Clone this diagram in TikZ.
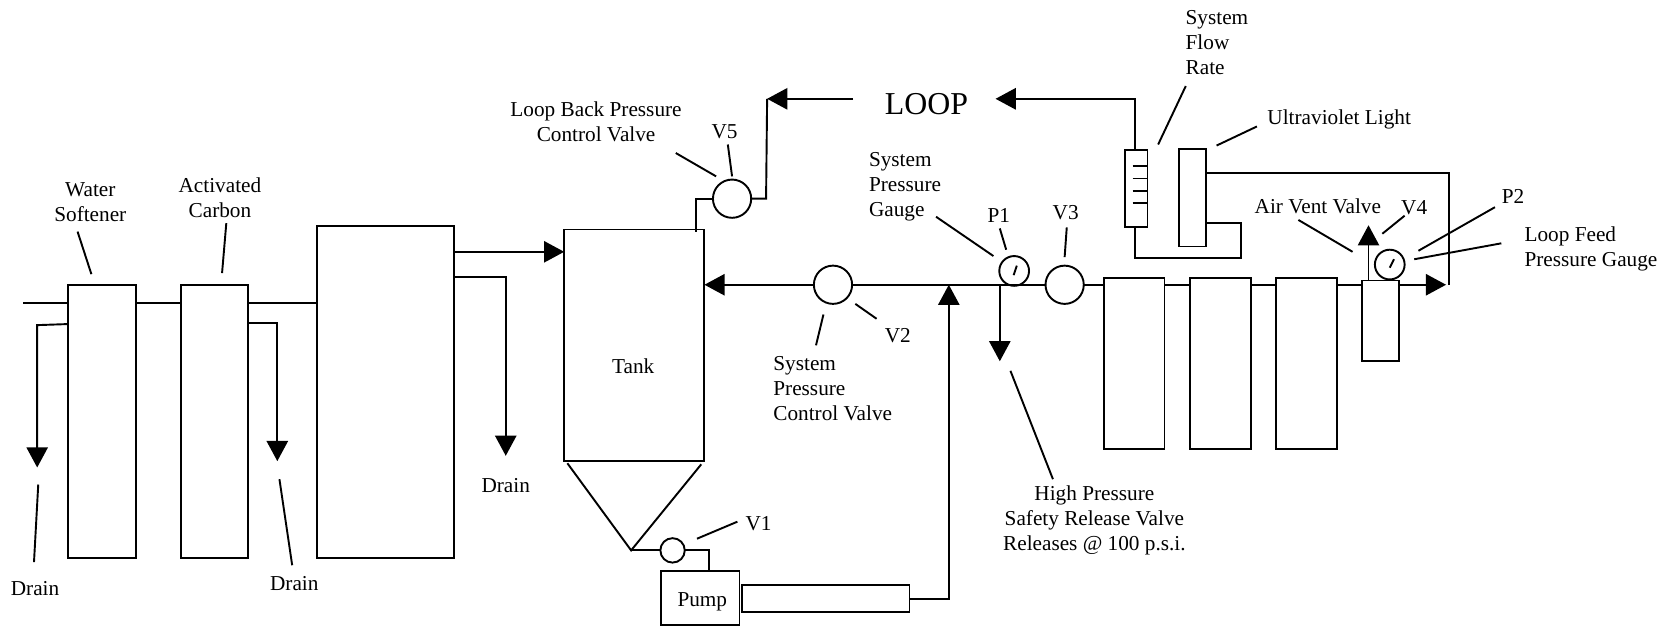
\documentclass[tikz,border=0pt]{standalone}
\usepackage{fontspec}
\setmainfont{Liberation Serif}
\usetikzlibrary{arrows.meta}
\tikzset{
    box/.style={draw, inner sep=0pt, outer sep=0pt},
    valve/.style={draw, circle, inner sep=0pt, outer sep=0pt, minimum size=36pt},
    gauge/.style={draw, circle, inner sep=0pt, outer sep=0pt, minimum size=28pt},
    flow/.style={-{Triangle[length=19pt,width=20pt]}},
    lbl/.style={inner sep=0pt, align=center},
    lblleft/.style={inner sep=0pt, anchor=west, align=left}
}
\begin{document}
\begin{tikzpicture} [x=1pt, y=-1pt, line width=1.8pt, every node/.append style={font=\fontsize{20}{23.5}\selectfont}]
        \useasboundingbox (0,0) rectangle (1568,589);
        % vessels
        \node[box, minimum width=64pt, minimum height=257pt] (softener) at (96,396.5) {};
        \node[box, minimum width=63pt, minimum height=257pt] (carbon) at (201.5,396.5) {};
        \node[box, minimum width=129pt, minimum height=312pt] (media) at (362.5,369) {};
        \node[box, minimum width=132pt, minimum height=218pt] (tank) at (597,325) {};
        \node[box, minimum width=74pt, minimum height=51pt] (pump) at (659,562.5) {};
        \node[box, minimum width=158pt, minimum height=25pt] (motor) at (777,563.5) {};
        \node[box, minimum width=57pt, minimum height=161pt] (filterA) at (1067.5,342.5) {};
        \node[box, minimum width=57pt, minimum height=161pt] (filterB) at (1148.5,342.5) {};
        \node[box, minimum width=57pt, minimum height=161pt] (filterC) at (1229.5,342.5) {};
        \node[box, minimum width=35pt, minimum height=76pt] (vent) at (1299.5,302) {};
        \node[box, minimum width=21pt, minimum height=73pt] (meter) at (1069.5,177.5) {};
        \node[box, minimum width=25pt, minimum height=92pt] (uv) at (1122.5,186) {};
        % valves and gauges
        \node[valve, minimum size=23pt] (v1) at (633,518) {};
        \node[valve] (v2) at (784,268) {};
        \node[valve] (v3) at (1002,268) {};
        \node[valve] (v5) at (689,187) {};
        \node[gauge] (p1) at (954.5,255) {};
        \node[gauge] (p2) at (1308,249) {};
        \draw (954,259) -- (957,250);
        \draw (1308,252) -- (1312,244);
        % water softening side
        \coordinate (feed) at (22,285);
        \draw (feed) -- (softener.west |- feed);
        \draw (softener.east |- feed) -- (carbon.west |- feed);
        \draw (carbon.east |- feed) -- (media.west |- feed);
        \coordinate (softdrain) at (35,440);
        \draw[flow] (softener.west |- 0,305) -- (35,306) -- (softdrain);
        \coordinate (carbondrain) at (261,434);
        \draw[flow] (carbon.east |- 0,304) -- (261,304) -- (carbondrain);
        \coordinate (mediadrain) at (476,429);
        \draw[flow] (media.east |- 0,261) -- (476,261) -- (mediadrain);
        \draw[flow] (media.east |- 0,237) -- (tank.west |- 0,237);
        % tank and pump
        \coordinate (hopperL) at (534,436);
        \coordinate (hopperB) at (594,518);
        \coordinate (hopperR) at (660,437);
        \draw (hopperL) -- (hopperB) -- (hopperR);
        \draw (hopperB) -- (v1.west);
        \draw (v1.east) -- (667,518) -- (pump.north -| 667,0);
        \coordinate (join) at (893,268);
        \draw[flow] (motor.east) -- (join |- motor.east) -- (join);
        \draw[flow] (v2.west) -- (tank.east |- v2.west);
        \draw (v2.east) -- (join) -- (v3.west);
        \coordinate (relief) at (941,340);
        \draw[flow] (relief |- join) -- (relief);
        % filters
        \draw (v3.east) -- (filterA.west |- v3.east);
        \draw (filterA.east |- join) -- (filterB.west |- join);
        \draw (filterB.east |- join) -- (filterC.west |- join);
        \draw (filterC.east |- join) -- (vent.west |- join);
        \coordinate (ventout) at (1361,268);
        \draw[flow] (vent.east |- ventout) -- (ventout);
        \coordinate (ventup) at (1288,212);
        \draw[flow] (vent.north -| ventup) -- (ventup);
        % loop
        \draw (1364,268) -- (1364,163) -- (uv.east |- 0,163);
        \draw (uv.east |- 0,210) -- (1168,210) -- (1168,243) -- (1068,243) -- (meter.south -| 1068,0);
        \node (loop) at (872,98) {\fontsize{30}{30}\selectfont LOOP};
        \coordinate (loopin) at (937,93);
        \draw[flow] (meter.north -| 1068,0) -- (1068,93) -- (loopin);
        \coordinate (loopout) at (803,93);
        \coordinate (loopcorner) at (722,93);
        \draw[flow] (loopout) -- (loopcorner);
        \draw (loopcorner) -- (721,187) -- (v5.east);
        \draw (v5.west) -- (655,187) -- (655,218);
        \foreach \y in {156,168,180,191}
            \draw (1066,\y) -- (meter.east |- 0,\y);
        % labels
        \node[lbl] (softlbl) at (85,190) {Water\\Softener};
        \node[lbl] (carbonlbl) at (207,186.5) {Activated\\Carbon};
        \node[lbl] (drainA) at (33,554) {Drain};
        \node[lbl] (drainB) at (277,549) {Drain};
        \node[lbl] (drainC) at (476,457) {Drain};
        \node[lbl] (tanklbl) at (596,345) {Tank};
        \node[lbl] (pumplbl) at (661,566) {Pump};
        \node[lbl] (v1lbl) at (714,493) {V1};
        \node[lbl] (v2lbl) at (845,316) {V2};
        \node[lbl] (v3lbl) at (1003,200) {V3};
        \node[lbl] (v4lbl) at (1331,195) {V4};
        \node[lbl] (v5lbl) at (682,124) {V5};
        \node[lbl] (p1lbl) at (940,203) {P1};
        \node[lbl] (p2lbl) at (1424,185) {P2};
        \node[lbl] (backlbl) at (561,115) {Loop Back Pressure\\Control Valve};
        \node[lbl] (relieflbl) at (1030,490) {High Pressure\\Safety Release Valve\\Releases @ 100 p.s.i.};
        \node[lblleft] (syscontrol) at (727,366) {System\\Pressure\\Control Valve};
        \node[lblleft] (sysgauge) at (817,176) {System\\Pressure\\Gauge};
        \node[lblleft] (sysflow) at (1115,40.5) {System\\Flow\\Rate};
        \node[lblleft] (uvlbl) at (1192,112) {Ultraviolet Light};
        \node[lblleft] (airlbl) at (1180,194) {Air Vent Valve};
        \node[lblleft] (feedlbl) at (1434,234) {Loop Feed\\Pressure Gauge};
        % leader lines
        \draw (73,218) -- (86,258);
        \draw (213,210) -- (209,257);
        \draw (36,456) -- (32,529);
        \draw (263,451) -- (275,532);
        \draw (636,144) -- (674,166);
        \draw (685,136) -- (689,166);
        \draw (881,204) -- (935,241);
        \draw (941,215) -- (947,235);
        \draw (1004,214) -- (1002,242);
        \draw (805,286) -- (825,300);
        \draw (775,296) -- (768,325);
        \draw (951,349) -- (991,451);
        \draw (656,507) -- (694,491);
        \draw (1116,81) -- (1090,136);
        \draw (1183,119) -- (1145,137);
        \draw (1222,207) -- (1273,237);
        \draw (1322,203) -- (1301,220);
        \draw (1407,195) -- (1335,236);
        \draw (1413,229) -- (1331,244);
    \end{tikzpicture}
\end{document}
